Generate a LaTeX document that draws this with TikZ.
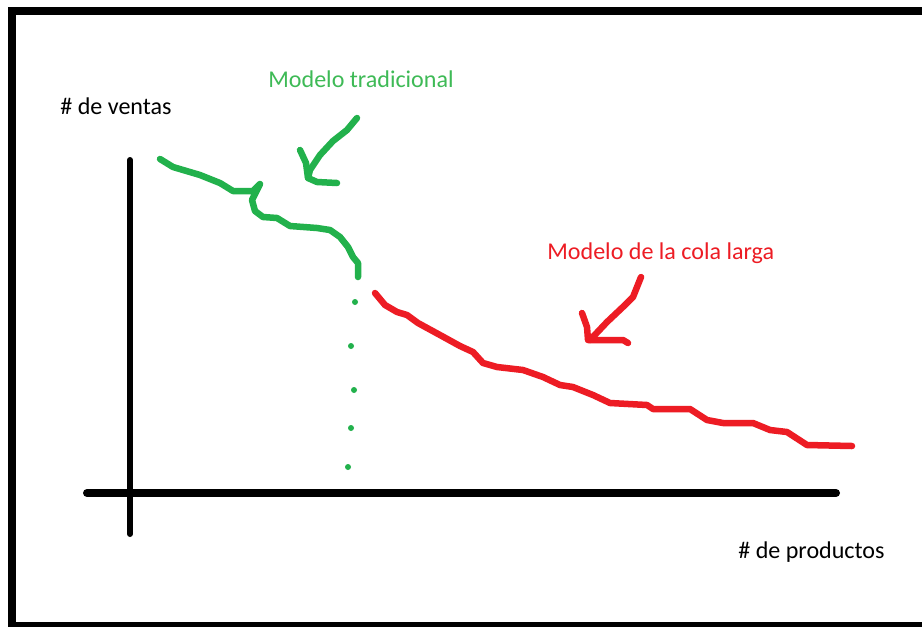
\documentclass[tikz,border=0pt]{standalone}
\usepackage{fontspec}
\setmainfont{Carlito}
\definecolor{paintgreen}{RGB}{34,177,76}
\definecolor{paintred}{RGB}{237,28,36}
\definecolor{labelgreen}{RGB}{62,186,86}
\begin{document}
\begin{tikzpicture}[x=0.02cm, y=-0.02cm,
    lbl/.style = {font=\fontsize{13.7}{16}\selectfont, inner sep=0pt, anchor=base west},
    axis/.style = {line width=0.12cm, line cap=round},
    stroke/.style = {line width=0.13cm, line cap=round, line join=round}]
      \clip (0, 0) rectangle (922, 626);
      \fill[white] (0, 0) rectangle (922, 626);
      \draw[line width=0.16cm] (930, 11) -- (12, 11) -- (12, 626) -- (930, 626);
      \draw[axis] (130, 160) -- (130, 534);
      \draw[axis, line width=0.16cm] (87, 493) -- (836, 493);
      \node[lbl] (Ventas) at (60, 114) {\# de ventas};
      \node[lbl] (Productos) at (738, 558) {\# de productos};
      \node[lbl, text=labelgreen] (Tradicional) at (268, 87) {Modelo tradicional};
      \node[lbl, text=paintred] (Cola Larga) at (547, 259) {Modelo de la cola larga};
      \draw[stroke, paintgreen] (160, 159) -- (173, 167) -- (200, 175) -- (220, 183) -- (233, 191)
        -- (253, 191) -- (260, 184) -- (256, 192) -- (252, 200) -- (255, 211) -- (263, 217)
        -- (277, 218) -- (290, 226) -- (317, 228) -- (330, 230) -- (340, 237) -- (348, 247)
        -- (353, 257) -- (358, 263) -- (358, 277);
      \draw[stroke, paintgreen] (357, 118) -- (347, 130) -- (333, 141) -- (320, 155) -- (310, 170) -- (308, 178);
      \draw[stroke, paintgreen] (300, 150) -- (306, 163) -- (308, 178) -- (317, 182) -- (337, 183);
      \foreach \px/\py in {355/302, 351/346, 354/390, 351/428, 348/467}
        \fill[paintgreen] (\px, \py) circle (3);
      \draw[stroke, paintred] (375, 293) -- (385, 305) -- (397, 312) -- (407, 315) -- (418, 323)
        -- (440, 335) -- (460, 346) -- (473, 352) -- (483, 363) -- (497, 367) -- (523, 370)
        -- (543, 377) -- (560, 385) -- (573, 387) -- (593, 395) -- (610, 403) -- (647, 405)
        -- (653, 409) -- (690, 409) -- (707, 420) -- (723, 423) -- (753, 423) -- (770, 430)
        -- (787, 432) -- (807, 445) -- (852, 446);
      \draw[stroke, paintred] (641, 277) -- (633, 297) -- (625, 305) -- (607, 322) -- (590, 340);
      \draw[stroke, paintred] (582, 313) -- (587, 327) -- (588, 340) -- (623, 340) -- (628, 343);
    \end{tikzpicture}
\end{document}
